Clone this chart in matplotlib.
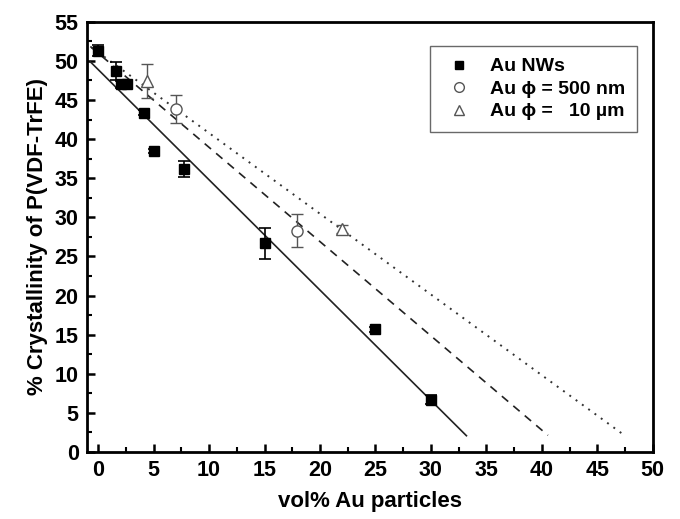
import matplotlib
matplotlib.use("Agg")
import matplotlib.pyplot as plt
import numpy as np
from matplotlib.ticker import MultipleLocator
from matplotlib.lines import Line2D

plt.rcParams['font.family'] = ['Liberation Sans', 'DejaVu Sans']
plt.rcParams['font.weight'] = 'bold'

# Au NWs
nw_x = [0, 1.6, 2.1, 2.6, 4.1, 5.0, 7.7, 15.0, 25.0, 30.0]
nw_y = [51.3, 48.7, 47.0, 47.0, 43.4, 38.5, 36.2, 26.7, 15.7, 6.7]
nw_err = [0.7, 1.1, 0.4, 0.4, 0.3, 0.3, 1.0, 2.0, 0.3, 0.6]

# Au phi = 500 nm
p500_x = [7.0, 17.9]
p500_y = [43.9, 28.3]
p500_err = [1.8, 2.1]

# Au phi = 10 um
p10_x = [4.4, 22.0]
p10_y = [47.4, 28.5]
p10_err = [2.2, 0.5]

# linear fits: (x_start, x_end, intercept, slope)
fit_nw = (-0.7, 33.2, 48.9, -1.41)
fit_500 = (-0.7, 40.55, 51.0, -1.205)
fit_10 = (-0.6, 47.4, 51.1, -1.032)

fig = plt.figure(figsize=(6.8, 5.19), dpi=100)
ax = fig.add_axes([0.128, 0.129, 0.832, 0.829])

gray = '#555555'

def fit_line(f, **kw):
    xs = np.array([f[0], f[1]])
    ax.plot(xs, f[2] + f[3] * xs, **kw)

fit_line(fit_nw, color='#222222', lw=1.2, ls='-')
fit_line(fit_500, color='#222222', lw=1.2, ls=(0, (5, 4)))
fit_line(fit_10, color='#333333', lw=1.4, ls=(0, (1, 3)))

ax.errorbar(nw_x, nw_y, yerr=nw_err, fmt='s', color='black', ms=7,
            ecolor='black', elinewidth=1.2, capsize=4, capthick=1.2,
            label='Au NWs', zorder=5)
ax.errorbar(p500_x, p500_y, yerr=p500_err, fmt='o', mfc='white', mec=gray,
            ms=8, ecolor=gray, elinewidth=1.0, capsize=4, capthick=1.0,
            label='Au ϕ = 500 nm', zorder=5)
ax.errorbar(p10_x, p10_y, yerr=p10_err, fmt='^', mfc='white', mec=gray,
            ms=9, ecolor=gray, elinewidth=1.0, capsize=4, capthick=1.0,
            label='Au ϕ =   10 µm', zorder=5)

ax.set_xlim(-1, 50)
ax.set_ylim(0, 55)
ax.xaxis.set_major_locator(MultipleLocator(5))
ax.xaxis.set_minor_locator(MultipleLocator(2.5))
ax.yaxis.set_major_locator(MultipleLocator(5))
ax.yaxis.set_minor_locator(MultipleLocator(2.5))
ax.tick_params(which='major', direction='in', length=6, width=1.8,
               labelsize=15.5, top=False, right=False, pad=6)
ax.tick_params(which='minor', direction='in', length=3.5, width=1.5,
               top=False, right=False)
for lbl in ax.get_xticklabels() + ax.get_yticklabels():
    lbl.set_fontweight('bold')
for s in ax.spines.values():
    s.set_linewidth(2.0)

ax.set_xlabel('vol% Au particles', fontsize=16, fontweight='bold', labelpad=7)
ax.set_ylabel('% Crystallinity of P(VDF-TrFE)', fontsize=16, fontweight='bold', labelpad=5)

handles, labels = ax.get_legend_handles_labels()
h = [Line2D([], [], marker='s', ls='none', color='black', ms=6),
     Line2D([], [], marker='o', ls='none', mfc='white', mec=gray, ms=7),
     Line2D([], [], marker='^', ls='none', mfc='white', mec=gray, ms=7)]
leg = ax.legend(h, labels, loc='upper right', bbox_to_anchor=(0.982, 0.957),
                frameon=True, fancybox=False, edgecolor='#444444',
                prop={'weight': 'bold', 'size': 14}, handletextpad=0.7,
                borderpad=0.6, labelspacing=0.25, handlelength=1.8,
                borderaxespad=0.3)
leg.get_frame().set_linewidth(1.0)

fig.savefig('out.png', dpi=100)
